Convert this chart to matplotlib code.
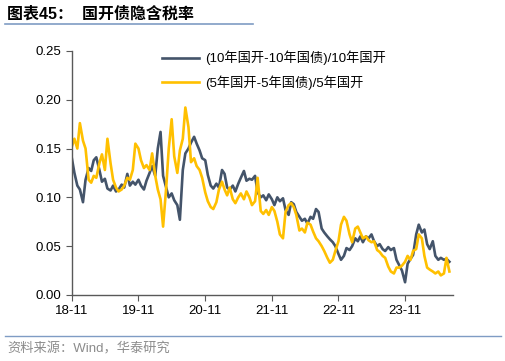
import matplotlib
matplotlib.use('Agg')
import matplotlib.pyplot as plt
import matplotlib.dates as mdates
import pandas as pd

plt.rcParams['font.family'] = ['Liberation Sans', 'Noto Sans CJK SC', 'DejaVu Sans']

# semi-monthly sample points
spread_10y = [
    0.140, 0.125, 0.112, 0.108, 0.095, 0.118, 0.130, 0.127, 0.138, 0.141,
    0.128, 0.116, 0.119, 0.109, 0.107, 0.112, 0.106, 0.108, 0.113, 0.110,
    0.124, 0.112, 0.116, 0.113, 0.118, 0.112, 0.108, 0.117, 0.125, 0.132,
    0.122, 0.150, 0.167, 0.122, 0.110, 0.100, 0.104, 0.097, 0.092, 0.077,
    0.128, 0.145, 0.150, 0.156, 0.162, 0.155, 0.148, 0.140, 0.138, 0.123,
    0.112, 0.109, 0.114, 0.110, 0.128, 0.124, 0.110, 0.108, 0.112, 0.106,
    0.114, 0.120, 0.127, 0.117, 0.119, 0.118, 0.122, 0.105, 0.100, 0.102,
    0.097, 0.103, 0.098, 0.092, 0.100, 0.096, 0.099, 0.087, 0.082, 0.095,
    0.093, 0.085, 0.080, 0.076, 0.078, 0.073, 0.080, 0.078, 0.088, 0.085,
    0.068, 0.064, 0.060, 0.057, 0.054, 0.050, 0.042, 0.036, 0.040, 0.048,
    0.046, 0.050, 0.058, 0.055, 0.060, 0.054, 0.060, 0.058, 0.062, 0.055,
    0.050, 0.052, 0.047, 0.045, 0.049, 0.046, 0.048, 0.036, 0.030, 0.025,
    0.013, 0.032, 0.037, 0.041, 0.062, 0.072, 0.064, 0.067, 0.052, 0.047,
    0.055, 0.040, 0.036, 0.038, 0.036, 0.037, 0.034,
]

spread_5y = [
    0.152, 0.160, 0.150, 0.176, 0.158, 0.150, 0.118, 0.115, 0.122, 0.120,
    0.135, 0.144, 0.128, 0.160, 0.135, 0.118, 0.110, 0.106, 0.108, 0.112,
    0.120, 0.118, 0.128, 0.155, 0.150, 0.138, 0.130, 0.133, 0.128, 0.145,
    0.122, 0.108, 0.098, 0.070, 0.110, 0.150, 0.180, 0.142, 0.125, 0.148,
    0.160, 0.192, 0.172, 0.136, 0.140, 0.132, 0.128, 0.120, 0.105, 0.096,
    0.090, 0.088, 0.095, 0.108, 0.116, 0.108, 0.102, 0.110, 0.098, 0.094,
    0.100, 0.104, 0.098, 0.106, 0.100, 0.092, 0.096, 0.120, 0.086, 0.083,
    0.087, 0.082, 0.090, 0.086, 0.075, 0.062, 0.058, 0.085, 0.092, 0.094,
    0.090, 0.082, 0.066, 0.068, 0.064, 0.074, 0.072, 0.065, 0.058, 0.055,
    0.050, 0.045, 0.038, 0.033, 0.036, 0.045, 0.055, 0.072, 0.080, 0.076,
    0.062, 0.054, 0.068, 0.070, 0.064, 0.058, 0.060, 0.056, 0.054, 0.055,
    0.046, 0.044, 0.040, 0.038, 0.029, 0.024, 0.022, 0.028, 0.028, 0.030,
    0.034, 0.040, 0.036, 0.045, 0.047, 0.062, 0.058, 0.040, 0.028, 0.026,
    0.024, 0.022, 0.024, 0.020, 0.022, 0.038, 0.024,
]

dates = pd.date_range('2018-11-01', periods=len(spread_10y), freq='SMS')

label_10y = '(10年国开-10年国债)/10年国开'
label_5y = '(5年国开-5年国债)/5年国开'
yticks = [0.00, 0.05, 0.10, 0.15, 0.20, 0.25]
xticks = pd.date_range('2018-11-01', '2023-11-01', freq='12MS')

fig = plt.figure(figsize=(5.06, 3.61), dpi=100)
ax = fig.add_axes([0.142, 0.183, 0.753, 0.676])

ax.plot(dates, spread_10y, color='#44546A', lw=1.9, label=label_10y)
ax.plot(dates, spread_5y, color='#FFC000', lw=1.9, label=label_5y)

ax.set_ylim(0, 0.25)
ax.set_yticks(yticks)
ax.set_yticklabels(['%.2f' % v for v in yticks])
ax.set_xlim(pd.Timestamp('2018-11-01'), pd.Timestamp('2024-07-20'))
ax.set_xticks(xticks)
ax.xaxis.set_major_formatter(mdates.DateFormatter('%y-%m'))

for s in ['top', 'right']:
    ax.spines[s].set_visible(False)
for s in ['left', 'bottom']:
    ax.spines[s].set_color('#595959')
    ax.spines[s].set_linewidth(1.0)
ax.tick_params(direction='out', length=4, color='#595959', labelsize=9.5,
               labelcolor='black')

ax.legend(loc='upper left', bbox_to_anchor=(0.205, 1.05), frameon=False,
          fontsize=9.5, handlelength=2.8, handletextpad=0.5, labelspacing=0.75)

# title and source
fig.text(0.014, 0.962, '图表45：  国开债隐含税率', fontsize=11.5, fontweight='bold',
         va='center', ha='left')
fig.add_artist(plt.Line2D([0.01, 0.5], [0.933, 0.933], color='#7F9CC4', lw=1.2))
fig.add_artist(plt.Line2D([0.01, 0.99], [0.068, 0.068], color='#7F9CC4', lw=1.0))
fig.text(0.014, 0.032, '资料来源：Wind，华泰研究', fontsize=9.5, color='#8C8C8C',
         va='center', ha='left')

fig.savefig('out.png', dpi=100)
